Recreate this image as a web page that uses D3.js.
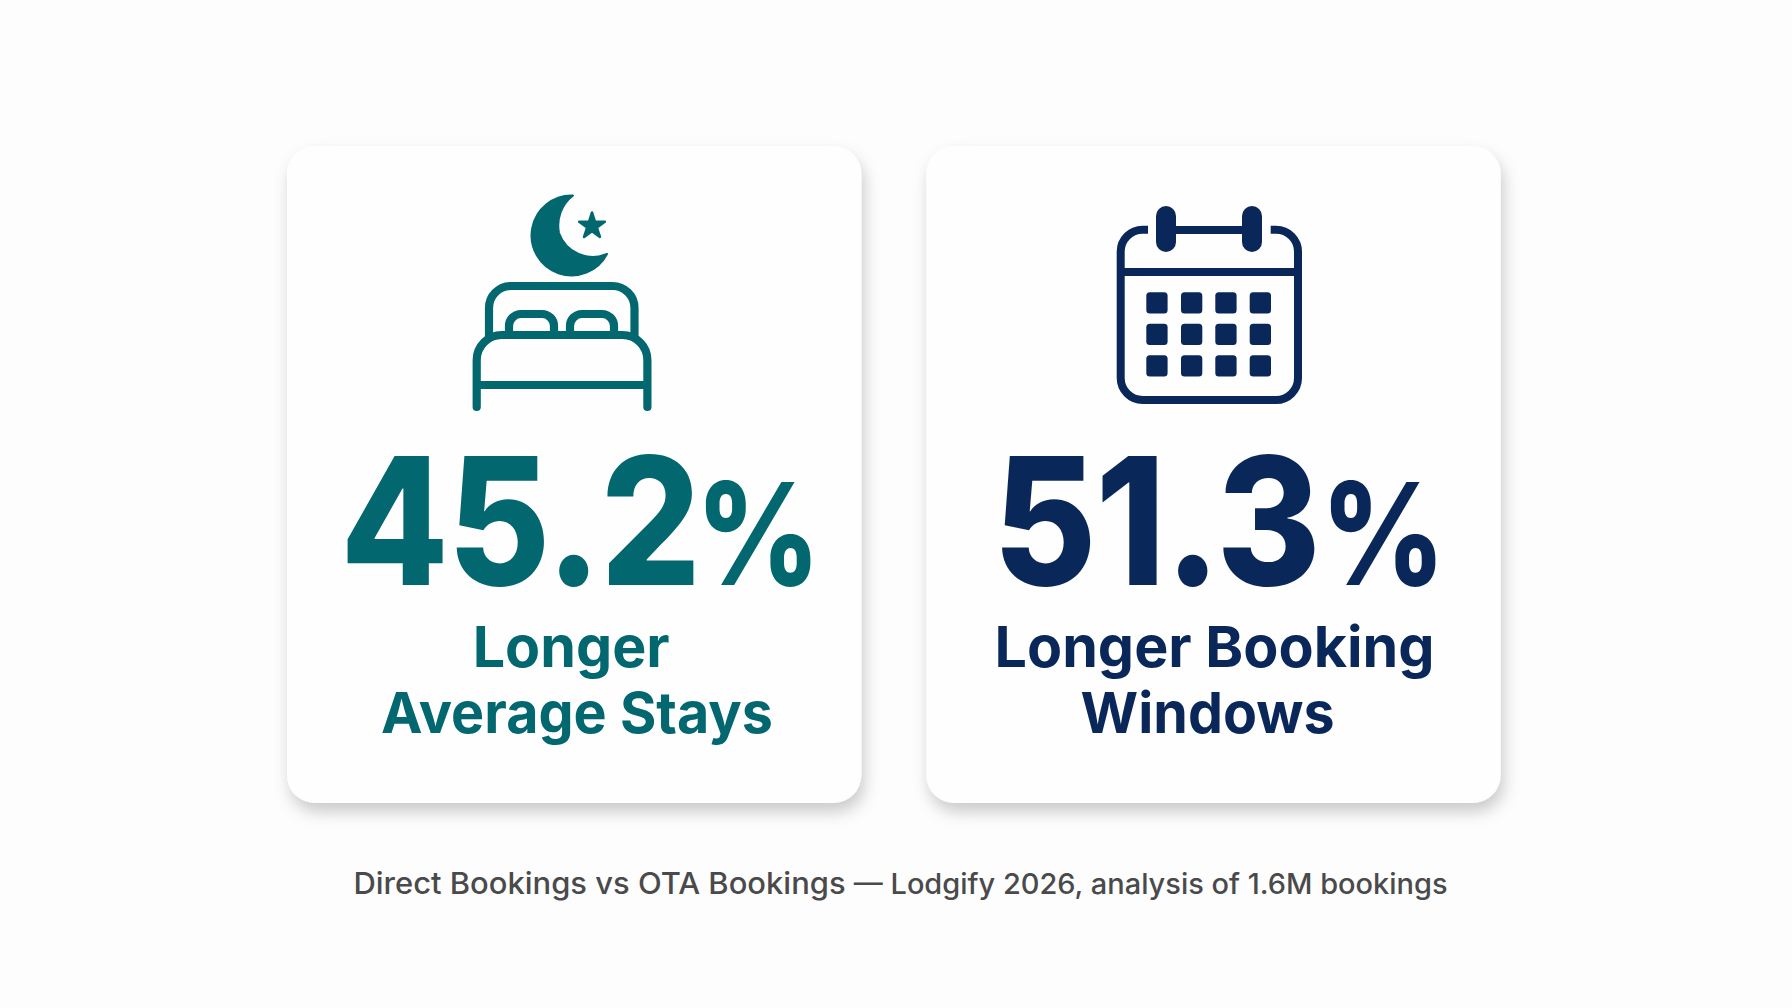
<!DOCTYPE html>
<html><head><meta charset="utf-8">
<script src="https://cdn.jsdelivr.net/npm/d3@7"></script>
<style>html,body{margin:0;padding:0;background:#fdfdfd}svg{display:block}text{font-family:Inter,"Noto Sans",sans-serif}</style>
</head><body><svg id="c" width="1792" height="1008"></svg>
<script>
const categories = ["stays", "window"];
const values = [45.2, 51.3];
const labelLines = [["Longer", "Average Stays"], ["Longer Booking", "Windows"]];
const colours = ["#02676f", "#0a2759"];
const footnoteParts = ["Direct Bookings vs OTA Bookings ", "— Lodgify 2026, analysis of 1.6M bookings"];

const svg = d3.select("#c");
const defs = svg.append("defs");
const f = defs.append("filter").attr("id","sh").attr("x","-10%").attr("y","-10%").attr("width","125%").attr("height","125%");
f.append("feDropShadow").attr("dx",3).attr("dy",9).attr("stdDeviation",8).attr("flood-color","#000").attr("flood-opacity",0.2);

const x = d3.scaleBand().domain(categories).range([287,1500.6]).paddingInner(0.1017).paddingOuter(0);
const cardTop = 146, cardH = 657;

svg.append("rect").attr("width",1792).attr("height",1008).attr("fill","#fdfdfd");

const cards = svg.selectAll("g.card").data(categories).join("g").attr("class","card")
  .attr("transform",d=>`translate(${x(d)},${cardTop})`);
cards.append("rect").attr("width",x.bandwidth()).attr("height",cardH).attr("rx",28).attr("fill","#fefefe").attr("filter","url(#sh)");

const numX = [340.5, 993], pctX = [696, 1321], numR = [0.888, 0.897], pctR = 0.85;
const lineX = [[571.2,577],[1214.5,1207.6]], lineW = [[197,392],[440,254]];
cards.each(function(d,i){
  const g = d3.select(this), ox = x(d);
  g.append("text").attr("transform",`translate(${numX[i]-ox},439) scale(${numR[i]},1)`).attr("fill",colours[i])
    .attr("font-size",177).attr("font-weight",800).attr("letter-spacing",-1).text(d3.format(".1f")(values[i]));
  g.append("text").attr("transform",`translate(${pctX[i]-ox},439) scale(${pctR},1)`).attr("fill",colours[i])
    .attr("font-size",142).attr("font-weight",800).text("%");
  labelLines[i].forEach((s,k)=>{
    g.append("text").attr("x",lineX[i][k]-ox).attr("y",[520.7,587][k]).attr("text-anchor","middle")
      .attr("font-size",57).attr("font-weight",700).attr("fill",colours[i])
      .attr("textLength",lineW[i][k]).attr("lengthAdjust","spacingAndGlyphs").text(s);
  });
});

// bed + moon icon
const bed = d3.select(cards.nodes()[0]).append("g").attr("transform",`translate(${-x(categories[0])},${-cardTop})`)
  .attr("fill","none").attr("stroke",colours[0]).attr("stroke-width",8.2).attr("stroke-linecap","round").attr("stroke-linejoin","round");
bed.append("path").attr("d","M489,335V308A22,22 0 0 1 511,286H612.5A22,22 0 0 1 634.5,308V335");
bed.append("path").attr("d","M509,335V326A12,12 0 0 1 521,314H542A12,12 0 0 1 554,326V335");
bed.append("path").attr("d","M570,335V326A12,12 0 0 1 582,314H602A12,12 0 0 1 614,326V335");
bed.append("path").attr("d","M476.7,407V360A25,25 0 0 1 501.7,335H622.4A25,25 0 0 1 647.4,360V407");
bed.append("path").attr("d","M476.7,385H647.4").attr("stroke-linecap","butt");
bed.append("path").attr("d","M572,195.5A40,40 0 1 0 606,254A36,36 0 0 1 558,233A38,38 0 0 1 572,195.5Z")
  .attr("transform","translate(1,0)").attr("fill",colours[0]).attr("stroke-width",2);
bed.append("path").attr("d",d3.symbol(d3.symbolStar,205)()).attr("transform","translate(592,226)")
  .attr("fill",colours[0]).attr("stroke-width",2.5);

// calendar icon
const cal = d3.select(cards.nodes()[1]).append("g").attr("transform",`translate(${-x(categories[1])},${-cardTop})`)
  .attr("fill","none").attr("stroke",colours[1]).attr("stroke-width",8);
cal.append("path").attr("d","M1148,229.7H1143A22,22 0 0 0 1120.7,252V378A22,22 0 0 0 1143,400H1276A22,22 0 0 0 1298,378V252A22,22 0 0 0 1276,229.7H1270.7");
cal.append("path").attr("d","M1120.7,272H1298");
cal.append("path").attr("d","M1166,230H1252");
[1166,1252].forEach(cxr=>cal.append("rect").attr("x",cxr-10).attr("y",206).attr("width",20).attr("height",46).attr("rx",10).attr("fill",colours[1]).attr("stroke","none"));
const gx=[1146.3,1181,1215.3,1249.7], gy=[292.3,323.7,355.3];
gy.forEach(yy=>gx.forEach(xx=>cal.append("rect").attr("x",xx).attr("y",yy).attr("width",21.3).attr("height",21.3).attr("rx",3.5).attr("fill",colours[1]).attr("stroke","none")));

const foot = svg.append("text").attr("x",900.5).attr("y",894).attr("text-anchor","middle").attr("font-weight",500)
  .attr("fill","#4a4a4c").attr("xml:space","preserve").style("white-space","pre");
foot.append("tspan").attr("font-size",30).text(footnoteParts[0]);
foot.append("tspan").attr("font-size",28.1).text(footnoteParts[1]);
foot.attr("textLength",1094).attr("lengthAdjust","spacingAndGlyphs");
</script></body></html>
